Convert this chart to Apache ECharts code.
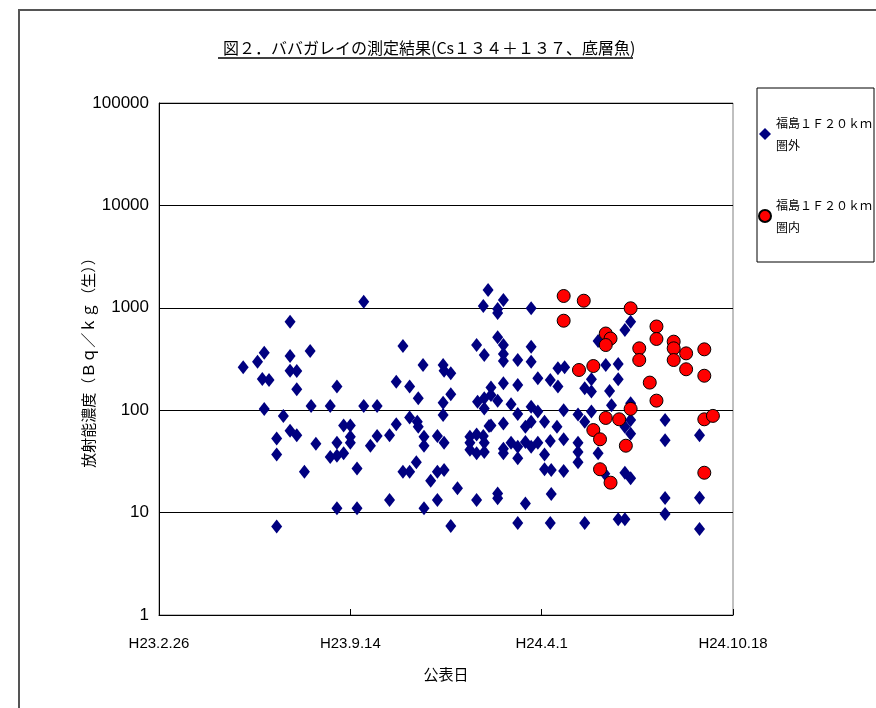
<!DOCTYPE html>
<html><head><meta charset="utf-8">
<script src="https://cdn.jsdelivr.net/npm/echarts@6/dist/echarts.min.js"></script>
<style>html,body{margin:0;padding:0;background:#fff}#c{width:876px;height:708px}</style>
</head><body><div id="c"></div>
<script>
// x = days since H23.2.26 (2011-02-26)
const xTickLabels = ['H23.2.26', 'H23.9.14', 'H24.4.1', 'H24.10.18'];
const yTickLabels = ['1', '10', '100', '1000', '10000', '100000'];
const seriesNames = ['福島１Ｆ２０ｋｍ\n圏外', '福島１Ｆ２０ｋｍ\n圏内'];

const outsideDays = [88,103,110,108,115,110,123,123,123,130,137,137,137,144,144,137,144,152,158,159,164,
 179,179,186,186,186,186,193,193,200,200,200,207,207,214,214,221,228,228,241,241,248,248,255,255,262,262,262,269,271,270,271,
 276,277,277,277,284,291,291,291,297,298,297,297,298,298,305,305,305,312,
 332,340,344,339,347,340,333,340,345,332,325,332,339,325,340,325,332,340,
 360,354,354,389,354,360,360,360,375,389,389,396,409,347,360,375,354,368,389,396,375,389,383,403,347,360,368,360,360,375,383,389,396,375,403,403,410,409,354,354,383,375,409,410,
 459,467,417,424,417,452,445,452,471,423,438,445,452,416,423,438,438,438,459,423,445,466,
 493,487,480,480,473,493,487,493,493,529,529,487,493,529,529,480,487,565,565,565];
const outsideValues = [262,298,364,202,197,103,53,37,7.3,88,732,338,243,241,160,63,57,25,378,110,47,
 110,35,170,48,36,11,71,38,71,55,48,27,11,1147,110,45,110,56,57,13.3,190,73,424,25,170,85,25,31,131,77,69,
 276,55,45,11,20.5,56,25,13.3,276,243,118,90,48,26,229,143,7.4,17.3,
 433,346,1492,1041,141,131,121,104,70,13.3,55,58,56,48,48,41,38,39,
 1192,973,889,989,515,433,354,302,309,417,298,205,197,167,183,176,124,114,108,97,92,77,69,77,71,74,48,42,38,44,49,44,48,34,37,26.5,26,50,15.4,13.8,12.3,7.9,7.9,15.2,
 474,276,257,262,170,200,164,152,154,100,91,77,97,69,52,48,39,31,38,25.5,7.9,24,
 732,607,283,200,112,117,69,80,59,80,51,24.5,21.6,13.9,9.7,8.6,8.6,57,14,6.9];

const insideDays = [423,444,423,467,472,467,439,454,467,454,461,461,472,493,520,520,502,502,513,520,493,481,488,538,538,538,551,551,570,570,570,579,570];
const insideValues = [1304,1173,748,561,501,433,247,270,84,64,52,26.5,19.6,989,657,496,402,309,186,124,103,81.5,45,467,402,309,359,251,393,217,81.5,88,24.5];

const zip = (xs, ys) => xs.map((x, i) => [x, ys[i]]);
const numFont = "'Liberation Sans',Arial,sans-serif";
const cjkFont = "'Noto Sans CJK JP','Noto Sans CJK SC',sans-serif";

const chart = echarts.init(document.getElementById('c'));
chart.setOption({
  animation: false,
  backgroundColor: '#fff',
  title: {
    text: '図２．ババガレイの測定結果(Cs１３４＋１３７、底層魚)',
    left: 218, top: 35, itemGap: 0,
    textStyle: { fontFamily: cjkFont, fontSize: 16, fontWeight: 'normal', color: '#000' }
  },
  legend: {
    orient: 'vertical', left: 757, top: 88, width: 113,
    padding: [24, 2, 24, 1], itemGap: 38,
    borderColor: '#000', borderWidth: 1,
    itemWidth: 12, itemHeight: 12,
    textStyle: { fontFamily: cjkFont, fontSize: 12, color: '#000', lineHeight: 22 },
    data: seriesNames
  },
  grid: { left: 159, right: 143, top: 103, bottom: 93, show: true, borderColor: '#808080', borderWidth: 1 },
  xAxis: {
    type: 'value', min: 0, max: 600, interval: 200,
    name: '公表日', nameLocation: 'middle', nameGap: 52,
    nameTextStyle: { fontFamily: cjkFont, fontSize: 15, color: '#000' },
    axisLine: { lineStyle: { color: '#000', width: 1 } },
    axisTick: { inside: true, length: 6, lineStyle: { color: '#000' } },
    axisLabel: { margin: 21, fontFamily: numFont, fontSize: 15, color: '#000',
      formatter: v => xTickLabels[Math.round(v / 200)] },
    splitLine: { show: false }
  },
  yAxis: {
    type: 'log', logBase: 10, min: 1, max: 100000,
    name: '放射能濃度（Ｂｑ／ｋｇ（生））', nameLocation: 'middle', nameGap: 63,
    nameMoveOverlap: false,
    nameTextStyle: { fontFamily: cjkFont, fontSize: 15, color: '#000' },
    axisLine: { show: true, lineStyle: { color: '#000', width: 1 } },
    axisTick: { show: true, inside: true, length: 8, lineStyle: { color: '#000' } },
    axisLabel: { margin: 10, fontFamily: numFont, fontSize: 17, color: '#000',
      formatter: v => yTickLabels[Math.round(Math.log10(v))] },
    splitLine: { show: true, lineStyle: { color: '#000', width: 1 } }
  },
  graphic: [
    { type: 'line', shape: { x1: 218, y1: 58, x2: 633, y2: 58 }, style: { stroke: '#000', lineWidth: 1.5 } },
    { type: 'polyline', shape: { points: [[19, 708], [19, 10], [876, 10]] }, style: { stroke: '#555', lineWidth: 2, fill: null } }
  ],
  series: [
    { name: seriesNames[0], type: 'scatter', symbol: 'diamond', symbolSize: [11, 14],
      itemStyle: { color: '#000080', opacity: 1 }, data: zip(outsideDays, outsideValues) },
    { name: seriesNames[1], type: 'scatter', symbol: 'circle', symbolSize: 13,
      itemStyle: { color: '#ff0000', borderColor: '#000', borderWidth: 1, opacity: 1 }, data: zip(insideDays, insideValues) }
  ]
});
</script></body></html>
